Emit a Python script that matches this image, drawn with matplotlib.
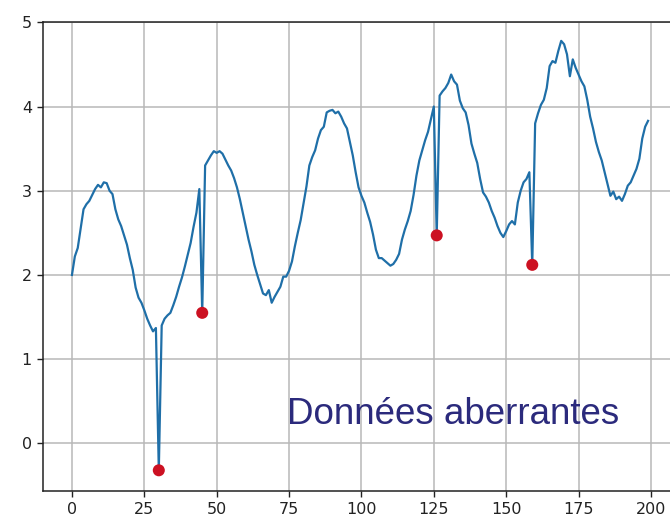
import matplotlib
matplotlib.use("Agg")
import matplotlib.pyplot as plt
import numpy as np

# Series values (index 0..199)
values = [
    2.00, 2.22, 2.32, 2.55, 2.78, 2.84, 2.88, 2.95, 3.02, 3.07,
    3.04, 3.10, 3.09, 3.00, 2.96, 2.78, 2.66, 2.58, 2.47, 2.36,
    2.20, 2.06, 1.85, 1.73, 1.67, 1.58, 1.48, 1.40, 1.33, 1.37,
    -0.32, 1.40, 1.48, 1.52, 1.55, 1.64, 1.74, 1.86, 1.97, 2.10,
    2.24, 2.38, 2.57, 2.74, 3.02, 1.55, 3.30, 3.36, 3.42, 3.47,
    3.45, 3.47, 3.44, 3.37, 3.30, 3.24, 3.15, 3.04, 2.90, 2.74,
    2.58, 2.42, 2.28, 2.12, 2.00, 1.89, 1.78, 1.76, 1.82, 1.67,
    1.74, 1.80, 1.86, 1.98, 1.98, 2.05, 2.16, 2.34, 2.50, 2.65,
    2.85, 3.05, 3.30, 3.40, 3.48, 3.62, 3.72, 3.76, 3.93, 3.95,
    3.96, 3.92, 3.94, 3.88, 3.80, 3.74, 3.58, 3.42, 3.22, 3.04,
    2.94, 2.86, 2.74, 2.63, 2.48, 2.30, 2.20, 2.20, 2.17, 2.14,
    2.11, 2.13, 2.18, 2.25, 2.42, 2.54, 2.64, 2.76, 2.95, 3.18,
    3.36, 3.48, 3.60, 3.70, 3.85, 4.00, 2.47, 4.13, 4.18, 4.22,
    4.28, 4.38, 4.30, 4.26, 4.07, 3.98, 3.93, 3.78, 3.56, 3.44,
    3.33, 3.14, 2.98, 2.93, 2.86, 2.76, 2.68, 2.58, 2.50, 2.45,
    2.52, 2.60, 2.64, 2.60, 2.86, 3.00, 3.10, 3.14, 3.22, 2.12,
    3.80, 3.92, 4.02, 4.08, 4.22, 4.48, 4.54, 4.52, 4.66, 4.78,
    4.74, 4.62, 4.36, 4.56, 4.46, 4.38, 4.30, 4.24, 4.08, 3.88,
    3.74, 3.58, 3.46, 3.36, 3.22, 3.08, 2.94, 2.99, 2.90, 2.93,
    2.88, 2.96, 3.06, 3.10, 3.18, 3.26, 3.38, 3.62, 3.76, 3.83,
]
outlier_idx = [30, 45, 126, 159]
x_ticks = [0, 25, 50, 75, 100, 125, 150, 175, 200]
y_ticks = [0, 1, 2, 3, 4, 5]
annotation = "Données aberrantes"

x = np.arange(len(values))
y = np.array(values)
ox = np.array(outlier_idx)
oy = y[ox]

W, H = 670, 520
fig = plt.figure(figsize=(W / 100, H / 100), dpi=100)
left_px, right_px, top_px, bottom_px = 43, 677, 21.5, 490.5
ax = fig.add_axes([left_px / W, 1 - bottom_px / H,
                   (right_px - left_px) / W, (bottom_px - top_px) / H])

ax.plot(x, y, color="#1f6fa8", lw=1.6, zorder=3)
ax.scatter(ox, oy, s=75, color="#cc1122", zorder=4, edgecolors="none")

ax.set_xlim(-10, 209)
ax.set_ylim(-0.56, 5.01)
ax.set_xticks(x_ticks)
ax.set_yticks(y_ticks)
ax.grid(True, color="#b8b8b8", lw=1.1)
ax.set_axisbelow(True)
for s in ax.spines.values():
    s.set_linewidth(1.1)
    s.set_color("#222222")
ax.tick_params(axis="both", direction="out", length=4, width=1.0,
               labelsize=11.5, labelcolor="#222222", color="#222222", pad=4)

fig.text(287 / W, 1 - 424 / H, annotation, family="Liberation Sans",
         fontsize=26.5, color="#2b2a7c", ha="left", va="baseline")

fig.savefig("out.png", dpi=100)
